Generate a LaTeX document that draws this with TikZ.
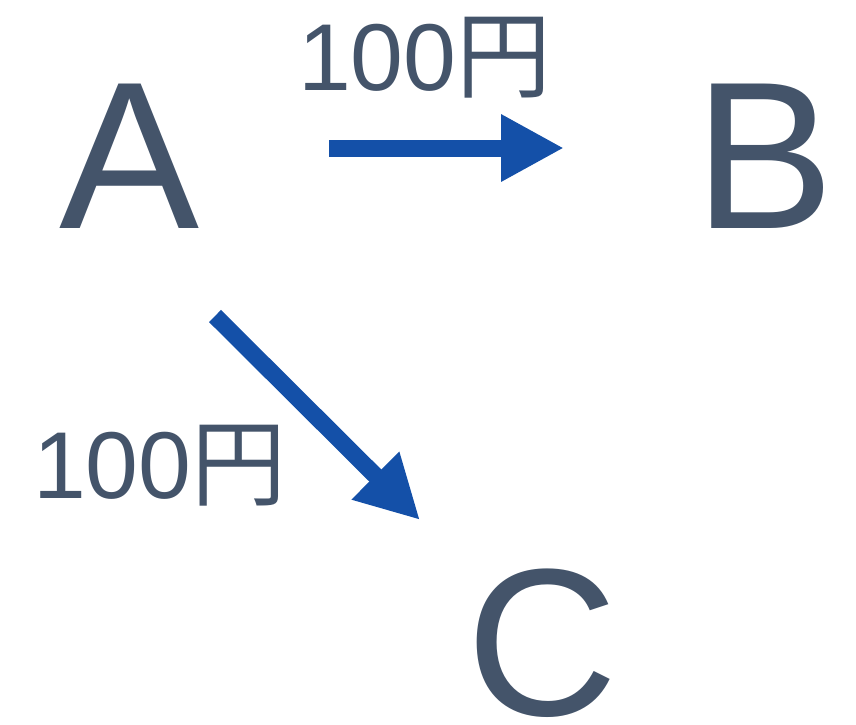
\documentclass[tikz,border=0pt]{standalone}
\usepackage{fontspec}
\setmainfont{Liberation Sans}
\newfontfamily\cjk{Noto Sans CJK JP}
\usetikzlibrary{arrows.meta}
\definecolor{txtc}{HTML}{44546A}
\definecolor{arrc}{HTML}{1450A8}
\begin{document}
\begin{tikzpicture}[x=1pt,y=-1pt,
  letter/.style={inner sep=0pt,outer sep=0pt,anchor=base west,text=txtc,font=\fontsize{210}{210}\selectfont},
  money/.style={inner sep=0pt,outer sep=0pt,anchor=base west,text=txtc,font=\fontsize{95}{95}\selectfont},
  flow/.style={draw=arrc,line width=17pt,-{Triangle[length=63pt,width=63pt]}}]
\useasboundingbox (0,0) rectangle (856,724);
\node[letter] (A) at (59,228) {A};
\node[letter] (B) at (694,228) {B};
\node[letter] (C) at (466,715) {C};
\node[money] (lab1) at (298,90) {100{\cjk 円}};
\node[money] (lab2) at (33,498) {100{\cjk 円}};
\coordinate (ab1) at (329,148);
\coordinate (ab2) at (564,148);
\coordinate (ac1) at (215,316);
\coordinate (ac2) at (420,520);
\draw[flow] (ab1) -- (ab2);
\draw[flow] (ac1) -- (ac2);
\end{tikzpicture}
\end{document}
